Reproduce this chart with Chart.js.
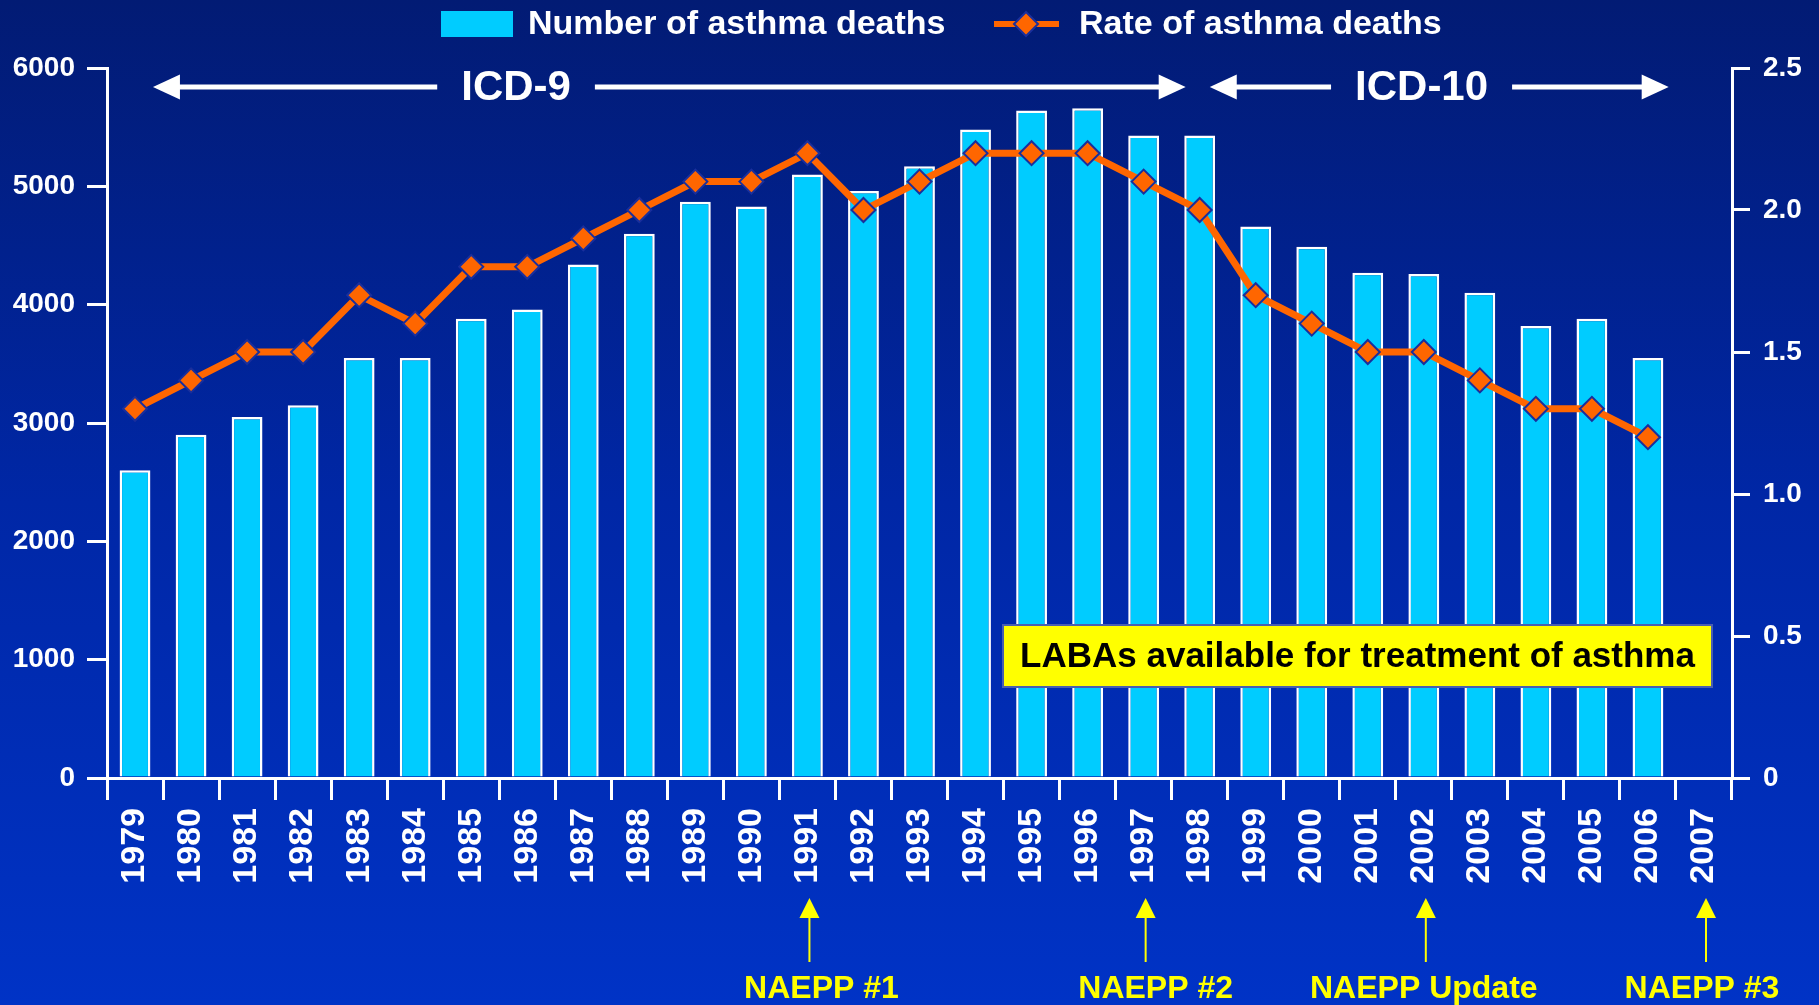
<!DOCTYPE html>
<html>
<head>
<meta charset="utf-8">
<title>Asthma deaths 1979-2007</title>
<script src="https://cdn.jsdelivr.net/npm/chart.js@4.4.1/dist/chart.umd.min.js"></script>
<style>
  html, body { margin: 0; padding: 0; overflow: hidden; background: #0026a8; }
  canvas { display: block; }
</style>
</head>
<body>
<canvas id="asthmaChart" width="1819" height="1005"></canvas>
<script>
// years on the x axis
const years = ['1979', '1980', '1981', '1982', '1983', '1984', '1985', '1986', '1987', '1988',
  '1989', '1990', '1991', '1992', '1993', '1994', '1995', '1996', '1997', '1998',
  '1999', '2000', '2001', '2002', '2003', '2004', '2005', '2006', '2007'];

// number of asthma deaths (left axis), no data for 2007
const deaths = [2600, 2900, 3050, 3150, 3550, 3550, 3880, 3960, 4340, 4600,
  4870, 4830, 5100, 4960, 5170, 5480, 5640, 5660, 5430, 5430,
  4660, 4490, 4270, 4260, 4100, 3820, 3880, 3550, null];

// rate of asthma deaths (right axis)
const rates = [1.3, 1.4, 1.5, 1.5, 1.7, 1.6, 1.8, 1.8, 1.9, 2.0,
  2.1, 2.1, 2.2, 2.0, 2.1, 2.2, 2.2, 2.2, 2.1, 2.0,
  1.7, 1.6, 1.5, 1.5, 1.4, 1.3, 1.3, 1.2, null];

const leftTicks = [0, 1000, 2000, 3000, 4000, 5000, 6000];
const rightTicks = [0, 0.5, 1.0, 1.5, 2.0, 2.5];

// NAEPP guideline releases: year index, label, text nudge
const naepp = [
  { idx: 12, label: 'NAEPP #1', dx: 14 },
  { idx: 18, label: 'NAEPP #2', dx: 12 },
  { idx: 23, label: 'NAEPP Update', dx: 0 },
  { idx: 28, label: 'NAEPP #3', dx: -2 }
];

const FONT = '"Liberation Sans", Arial, Helvetica, sans-serif';
const CYAN = '#00ccff';
const ORANGE = '#ff6600';
const YELLOW = '#ffff00';

// background gradient
const bgPlugin = {
  id: 'bg',
  beforeDraw(chart) {
    const ctx = chart.ctx;
    const g = ctx.createLinearGradient(0, 0, 0, chart.height);
    g.addColorStop(0, '#021b74');
    g.addColorStop(0.5, '#0027a6');
    g.addColorStop(1, '#0033c6');
    ctx.save();
    ctx.fillStyle = g;
    ctx.fillRect(0, 0, chart.width, chart.height);
    ctx.restore();
  }
};

function arrowHead(ctx, tipX, y, dir) {
  ctx.beginPath();
  ctx.moveTo(tipX, y);
  ctx.lineTo(tipX - dir * 27, y - 12.5);
  ctx.lineTo(tipX - dir * 27, y + 12.5);
  ctx.closePath();
  ctx.fill();
}

// ICD span: left tip, text, right tip
function icdSpan(ctx, leftTip, textX, rightTip, y, text) {
  ctx.font = 'bold 42px ' + FONT;
  ctx.textAlign = 'center';
  ctx.textBaseline = 'middle';
  ctx.fillText(text, textX, y + 1);
  const w = ctx.measureText(text).width;
  ctx.beginPath();
  ctx.moveTo(leftTip + 20, y);
  ctx.lineTo(textX - w / 2 - 24, y);
  ctx.moveTo(textX + w / 2 + 24, y);
  ctx.lineTo(rightTip - 20, y);
  ctx.stroke();
  arrowHead(ctx, leftTip, y, -1);
  arrowHead(ctx, rightTip, y, 1);
}

const notesPlugin = {
  id: 'notes',
  afterDraw(chart) {
    const ctx = chart.ctx;
    const x = chart.scales.x;
    const step = x.getPixelForValue(1) - x.getPixelForValue(0);
    const px = (i, f) => x.getPixelForValue(i) + f * step;
    const top = chart.chartArea.top;
    const bottom = chart.chartArea.bottom;
    ctx.save();

    // legend
    ctx.fillStyle = CYAN;
    ctx.fillRect(441, 11, 72, 26);
    ctx.fillStyle = '#ffffff';
    ctx.font = 'bold 34px ' + FONT;
    ctx.textAlign = 'left';
    ctx.textBaseline = 'middle';
    ctx.fillText('Number of asthma deaths', 528, 25);
    ctx.strokeStyle = ORANGE;
    ctx.lineWidth = 6;
    ctx.beginPath();
    ctx.moveTo(994, 24);
    ctx.lineTo(1059, 24);
    ctx.stroke();
    ctx.beginPath();
    ctx.moveTo(1026 - 12, 24); ctx.lineTo(1026, 12); ctx.lineTo(1026 + 12, 24); ctx.lineTo(1026, 36);
    ctx.closePath();
    ctx.fillStyle = ORANGE;
    ctx.fill();
    ctx.strokeStyle = '#1a2f9c';
    ctx.lineWidth = 2;
    ctx.stroke();
    ctx.fillStyle = '#ffffff';
    ctx.fillText('Rate of asthma deaths', 1079, 25);

    // ICD-9 / ICD-10 spans
    ctx.fillStyle = '#ffffff';
    ctx.strokeStyle = '#ffffff';
    ctx.lineWidth = 5;
    const ay = top + 19;
    icdSpan(ctx, px(0, 0.32), px(7, -0.2), px(19, -0.25), ay, 'ICD-9');
    icdSpan(ctx, px(19, 0.18), px(23, -0.04), px(27, 0.37), ay, 'ICD-10');

    // LABA box
    const bx = 1003, by = 625, bw = 709, bh = 62;
    ctx.fillStyle = YELLOW;
    ctx.fillRect(bx, by, bw, bh);
    ctx.strokeStyle = '#4a5fb0';
    ctx.lineWidth = 2;
    ctx.strokeRect(bx, by, bw, bh);
    ctx.fillStyle = '#000000';
    ctx.font = 'bold 35px ' + FONT;
    ctx.textAlign = 'center';
    ctx.textBaseline = 'middle';
    ctx.fillText('LABAs available for treatment of asthma', bx + bw / 2, by + bh / 2 + 1);

    // NAEPP arrows
    ctx.fillStyle = YELLOW;
    ctx.strokeStyle = YELLOW;
    ctx.font = 'bold 32px ' + FONT;
    ctx.textBaseline = 'alphabetic';
    naepp.forEach(n => {
      const cx = px(n.idx, 0) + 2;
      ctx.lineWidth = 2;
      ctx.beginPath();
      ctx.moveTo(cx, bottom + 138);
      ctx.lineTo(cx, bottom + 184);
      ctx.stroke();
      ctx.beginPath();
      ctx.moveTo(cx, bottom + 120);
      ctx.lineTo(cx - 10, bottom + 140);
      ctx.lineTo(cx + 10, bottom + 140);
      ctx.closePath();
      ctx.fill();
      ctx.fillText(n.label, px(n.idx, 0) + n.dx, bottom + 220);
    });
    ctx.restore();
  }
};

const ctx = document.getElementById('asthmaChart').getContext('2d');
const asthmaChart = new Chart(ctx, {
  type: 'bar',
  data: {
    labels: years,
    datasets: [{
      type: 'line',
      label: 'Rate of asthma deaths',
      data: rates,
      yAxisID: 'y1',
      borderColor: ORANGE,
      borderWidth: 7,
      pointStyle: 'rectRot',
      pointRadius: 12,
      pointBackgroundColor: ORANGE,
      pointBorderColor: '#1a2f9c',
      pointBorderWidth: 2,
      tension: 0,
      order: 0
    }, {
      label: 'Number of asthma deaths',
      data: deaths,
      yAxisID: 'y',
      backgroundColor: CYAN,
      borderColor: '#ffffff',
      borderWidth: 2.5,
      borderSkipped: 'bottom',
      barPercentage: 0.55,
      categoryPercentage: 1,
      order: 1
    }]
  },
  options: {
    responsive: false,
    animation: false,
    devicePixelRatio: 1,
    layout: { padding: { top: 68, left: 0, right: 0, bottom: 0 } },
    plugins: {
      legend: { display: false },
      tooltip: { enabled: false }
    },
    scales: {
      x: {
        offset: true,
        grid: { offset: true, drawOnChartArea: false, color: '#ffffff', lineWidth: 3, tickLength: 22 },
        border: { color: '#ffffff', width: 3 },
        ticks: {
          color: '#ffffff',
          font: { family: FONT, size: 34, weight: 'bold' },
          minRotation: 90,
          maxRotation: 90,
          autoSkip: false,
          padding: 8
        },
        afterFit(scale) { scale.height = 227; }
      },
      y: {
        position: 'left',
        min: leftTicks[0],
        max: leftTicks[leftTicks.length - 1],
        afterBuildTicks(scale) { scale.ticks = leftTicks.map(v => ({ value: v })); },
        grid: { drawOnChartArea: false, color: '#ffffff', lineWidth: 3, tickLength: 20 },
        border: { color: '#ffffff', width: 3 },
        ticks: {
          color: '#ffffff',
          font: { family: FONT, size: 28, weight: 'bold' },
          padding: 12,
          callback: v => String(v)
        },
        afterFit(scale) { scale.width = 107; }
      },
      y1: {
        position: 'right',
        min: rightTicks[0],
        max: rightTicks[rightTicks.length - 1],
        afterBuildTicks(scale) { scale.ticks = rightTicks.map(v => ({ value: v })); },
        grid: { drawOnChartArea: false, color: '#ffffff', lineWidth: 3, tickLength: 18 },
        border: { color: '#ffffff', width: 3 },
        ticks: {
          color: '#ffffff',
          font: { family: FONT, size: 28, weight: 'bold' },
          padding: 13,
          callback: v => (v === 0 ? '0' : v.toFixed(1))
        },
        afterFit(scale) { scale.width = 87; }
      }
    }
  },
  plugins: [bgPlugin, notesPlugin]
});
</script>
</body>
</html>
